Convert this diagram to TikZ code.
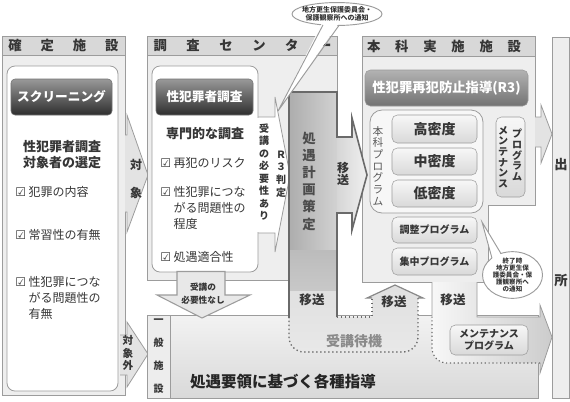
\documentclass[tikz,border=0pt]{standalone}
\usepackage{fontspec}
\setmainfont{Noto Sans CJK JP}
\newfontfamily\symfont{DejaVu Sans}
\definecolor{pfill}{HTML}{EEEEEE}
\definecolor{hfill}{HTML}{D8D8D8}
\definecolor{pline}{HTML}{9C9C9C}
\definecolor{tdark}{HTML}{363636}
\definecolor{bline}{HTML}{6A6A6A}
\definecolor{afill}{HTML}{E3E3E3}
\definecolor{gfill}{HTML}{F7F7F7}
\definecolor{uA}{HTML}{C8C8C8}
\definecolor{uB}{HTML}{E8E8E8}
\definecolor{sL}{HTML}{ADADAD}
\definecolor{sR}{HTML}{D2D2D2}
\definecolor{wgray}{HTML}{8A8A8A}
\newcommand{\ckb}{{\symfont ☑}\hspace{2pt}}
\begin{document}
\begin{tikzpicture}[x=0.75pt,y=-0.75pt,
  panel/.style={draw=pline, fill=pfill, line width=0.6pt},
  header/.style={draw=pline, fill=hfill, line width=0.6pt},
  htext/.style={inner sep=0pt, text=tdark, font=\fontsize{10}{12}\selectfont\bfseries},
  btnD/.style={rounded corners=3pt, top color=black!40, bottom color=black!82, draw=black!55, text=white, font=\fontsize{9.5}{11}\selectfont\bfseries, inner sep=0pt},
  btnM/.style={rounded corners=4pt, top color=black!30, bottom color=black!55, draw=black!40, text=white, font=\fontsize{10}{12}\selectfont\bfseries, inner sep=0pt},
  btext/.style={inner sep=0pt, text=tdark, font=\fontsize{9.75}{12}\selectfont\bfseries, align=center},
  citem/.style={inner sep=0pt, text=tdark, font=\fontsize{9}{12}\selectfont, align=left, anchor=west},
  vtext/.style={inner sep=0pt, text=tdark, align=center},
  dbox/.style={rounded corners=4pt, draw=pline, top color=gfill, bottom color=black!15, inner sep=0pt, text=tdark},
  apath/.style={draw=pline, fill=afill, line width=0.6pt}
]
\fill[white] (0,0) rectangle (570,401);
\useasboundingbox (0,0) rectangle (570,401);

%% ---------------- left column ----------------
\draw[panel] (2,36) rectangle (125,395);
\draw[header] (2,36) rectangle (125,55);
\node[htext] (hL) at (63.5,45.5) {\makebox[82.5pt]{確\hfill 定\hfill 施\hfill 設}};
\draw[draw=pline, fill=white, rounded corners=6pt, line width=0.6pt] (7,66) rectangle (118,391);
\node[btnD, minimum width=75.75pt, minimum height=27pt] (scr) at (61.5,97) {スクリーニング};
\node[btext] (sel) at (62,155) {性犯罪者調査\\対象者の選定};
\node[citem] (c1) at (15,192) {\ckb 犯罪の内容};
\node[citem] (c2) at (15,235) {\ckb 常習性の有無};
\node[citem, anchor=north west] (c3) at (15,276) {\ckb 性犯罪につな\\\hphantom{\ckb}がる問題性の\\\hphantom{\ckb}有無};

%% arrows out of left column
\draw[apath] (125,135) -- (127,135) -- (127,115) -- (148,175) -- (127,232) -- (127,212) -- (125,212);
\node[vtext, font=\fontsize{9}{21}\selectfont\bfseries] (tg) at (136,179) {対\\象};
\fill[afill] (120,335) -- (127,335) -- (127,322) -- (148,354) -- (127,387) -- (127,375) -- (120,375) -- cycle;
\draw[pline, line width=0.6pt] (120,335) -- (127,335) -- (127,322) -- (148,354) -- (127,387) -- (127,375) -- (120,375);
\node[vtext, font=\fontsize{8}{9.4}\selectfont\bfseries] (tgx) at (128,353) {対\\象\\外};

%% ---------------- center column ----------------
\draw[panel] (147,36) rectangle (337,280);
\draw[header] (147,36) rectangle (337,55);
\node[htext] (hC) at (242.5,45.5) {\makebox[133.5pt]{調\hfill 査\hfill セ\hfill ン\hfill タ\hfill ー}};
\draw[draw=pline, fill=white, line width=0.6pt] (250,117) -- (275,117) -- (275,97) -- (290,175) -- (275,252) -- (275,233) -- (250,233);
\draw[draw=pline, fill=white, rounded corners=6pt, line width=0.6pt] (152,66) rectangle (258,272);
\fill[white] (257,117.7) rectangle (259.5,232.3);
\node[btnD, minimum width=72.75pt, minimum height=27pt] (inv) at (204.5,97) {性犯罪者調査};
\node[btext] (sen) at (205,134) {専門的な調査};
\node[citem] (c4) at (160,163) {\ckb 再犯のリスク};
\node[citem, anchor=north west] (c5) at (160,186) {\ckb 性犯罪につな\\\hphantom{\ckb}がる問題性の\\\hphantom{\ckb}程度};
\node[citem] (c6) at (160,257) {\ckb 処遇適合性};
\node[vtext, font=\fontsize{7.5}{9.4}\selectfont\bfseries] (need) at (264,172) {受\\講\\の\\必\\要\\性\\あ\\り};
\node[vtext, font=\fontsize{7.5}{9.4}\selectfont\bfseries] (r3) at (281,174) {Ｒ\\３\\判\\定};

%% ---------------- main facility column ----------------
\draw[panel] (362,36) -- (535,36) -- (535,205) -- (488,205) -- (488,282) -- (362,282) -- cycle;
\draw[header] (362,36) rectangle (535,56);
\node[htext] (hR) at (444,46.5) {\makebox[115.5pt]{本\hfill 科\hfill 実\hfill 施\hfill 施\hfill 設}};
\node[btnM, minimum width=122.25pt, minimum height=27pt] (r3b) at (446.5,88) {性犯罪再犯防止指導(R3)};
\draw[draw=pline, fill=gfill, rounded corners=9pt, line width=0.6pt] (370,110) rectangle (483,213);
\node[vtext, text=black!65, font=\fontsize{8}{8.75}\selectfont] (hk) at (378,166) {本\\科\\プ\\ロ\\グ\\ラ\\ム};
\node[dbox, minimum width=63.75pt, minimum height=21pt, font=\fontsize{10.5}{12}\selectfont\bfseries] (hi) at (434.5,129) {高密度};
\node[dbox, minimum width=63.75pt, minimum height=20.25pt, font=\fontsize{10.5}{12}\selectfont\bfseries] (mid) at (434.5,161.5) {中密度};
\node[dbox, minimum width=63.75pt, minimum height=20.25pt, font=\fontsize{10.5}{12}\selectfont\bfseries] (lo) at (434.5,193.5) {低密度};
\node[dbox, minimum width=21.75pt, minimum height=60pt] (pm) at (510.5,157) {};
\node[vtext, anchor=north, font=\fontsize{7.5}{8}\selectfont\bfseries] (pm1) at (517,129) {プ\\ロ\\グ\\ラ\\ム};
\node[vtext, anchor=north, font=\fontsize{7.5}{8}\selectfont\bfseries] (pm2) at (503,126) {メ\\ン\\テ\\ナ\\ン\\ス};
\node[dbox, minimum width=63.75pt, minimum height=19.5pt, font=\fontsize{7.5}{9}\selectfont\bfseries] (adj) at (434.5,230) {調整プログラム};
\node[dbox, minimum width=63.75pt, minimum height=20.25pt, font=\fontsize{7.5}{9}\selectfont\bfseries] (con) at (434.5,261.5) {集中プログラム};

%% ---------------- exit column ----------------
\draw[panel] (552,37) rectangle (569.5,398);
\node[htext] (ex1) at (561,165) {出};
\node[htext] (ex2) at (561,280) {所};
\draw[apath] (535,117) -- (541,117) -- (541,105) -- (552,134) -- (541,163) -- (541,147) -- (535,147);

%% ---------------- general facility ----------------
\draw[draw=pline, line width=0.6pt, top color=black!5, bottom color=black!15] (147,315) rectangle (538,398);
\draw[draw=pline, fill=black!7, line width=0.6pt] (147,315) rectangle (170,398);
\node[vtext, font=\fontsize{7.5}{17.25}\selectfont\bfseries] (ip) at (158.5,356.5) {一\\般\\施\\設};
\node[inner sep=0pt, text=black!85, font=\fontsize{11.6}{14}\selectfont\bfseries] (main) at (283,382) {処遇要領に基づく各種指導};

%% ---------------- right channel to exit ----------------
\path[left color=black!3, right color=black!20] (432,282) -- (477,282) -- (477,317) -- (540,317) -- (540,305) -- (552,337) -- (540,373) -- (540,363) -- (447,363) .. controls (438.7,363) and (432,356.3) .. (432,348) -- cycle;
\draw[pline, line width=0.6pt] (432,317) -- (432,282) (477,282) -- (477,317) -- (540,317) -- (540,305) -- (552,337) -- (540,373) -- (540,363);
\draw[bline, dotted, line width=0.9pt] (540,363) -- (447,363) .. controls (438.7,363) and (432,356.3) .. (432,348) -- (432,317);
\node[inner sep=0pt, text=tdark, font=\fontsize{9.4}{11}\selectfont\bfseries] (iso3) at (453,300) {移送};
\node[dbox, minimum width=58.5pt, minimum height=22.5pt, align=center, font=\fontsize{7.5}{9}\selectfont\bfseries] (mp) at (489,340) {メンテナンス\\プログラム};

%% ---------------- treatment planning + waiting ----------------
\path[top color=uA, bottom color=uB] (289,92) -- (337,92) -- (337,137) -- (352,137) -- (352,118) -- (367,175) -- (352,230) -- (352,213) -- (337,213) -- (337,317) -- (372,317) -- (372,298) -- (367,298) -- (395,285) -- (423,298) -- (418,298) -- (418,337) .. controls (418,345.3) and (411.3,352) .. (403,352) -- (304,352) .. controls (295.7,352) and (289,345.3) .. (289,337) -- cycle;
\path[left color=sL, right color=sR] (289,92) rectangle (337,250);
\path[top color=sL!60!sR, bottom color=uA] (289,250) rectangle (337,290);
\path[left color=black!16, right color=black!6] (337,137) -- (352,137) -- (352,118) -- (367,175) -- (352,230) -- (352,213) -- (337,213) -- cycle;
\draw[bline, line width=1.2pt, line join=miter] (289,318) -- (289,92) -- (337,92) -- (337,137) -- (352,137) -- (352,118) -- (367,175) -- (352,230) -- (352,213) -- (337,213) -- (337,317);
\draw[bline, dotted, line width=1pt] (337,317) -- (372,317) -- (372,298);
\draw[bline!80, line width=0.9pt] (372,298) -- (367,298) -- (395,285) -- (423,298) -- (418,298);
\draw[bline, dotted, line width=1pt] (418,298) -- (418,337) .. controls (418,345.3) and (411.3,352) .. (403,352) -- (304,352) .. controls (295.7,352) and (289,345.3) .. (289,337) -- (289,318);
\node[vtext, text=black!70, font=\fontsize{10}{12.9}\selectfont\bfseries] (plan) at (309,181) {処\\遇\\計\\画\\策\\定};
\node[vtext, font=\fontsize{9}{9.4}\selectfont\bfseries] (iso1) at (343,174) {移\\送};
\node[inner sep=0pt, text=tdark, font=\fontsize{9.4}{11}\selectfont\bfseries] (iso2) at (312,300) {移送};
\node[inner sep=0pt, text=tdark, font=\fontsize{9.4}{11}\selectfont\bfseries] (iso4) at (394,302) {移送};
\node[inner sep=0pt, text=wgray, font=\fontsize{10.5}{12}\selectfont\bfseries] (wait) at (354,341) {受講待機};

%% ---------------- no-need arrow ----------------
\draw[draw=pline, fill=black!9, line width=0.8pt] (177,271.5) -- (225,271.5) -- (225,295) -- (250,295) -- (202,318) -- (157,295) -- (177,295) -- cycle;
\node[vtext, font=\fontsize{6.5}{9.75}\selectfont\bfseries] (nn) at (203,293.5) {受講の\\必要性なし};

%% ---------------- callouts ----------------
\draw[draw=pline, fill=white, line width=0.7pt] (337,14) ellipse [x radius=33.75pt, y radius=8.6pt];
\fill[white] (322,23) -- (339,23) -- (278,111) -- cycle;
\draw[pline, line width=0.7pt] (323,24.9) -- (278,111) -- (339,25.4);
\node[vtext, font=\fontsize{5.25}{6}\selectfont\bfseries] (b1) at (337,14) {地方更生保護委員会・\\保護観察所への通知};

\draw[draw=pline, fill=white, line width=0.7pt] (512.5,275) ellipse [x radius=22.5pt, y radius=17.5pt];
\fill[white] (493,261.5) -- (502,256.5) -- (482,222) -- cycle;
\draw[pline, line width=0.7pt] (492,258.3) -- (482,222) -- (501,253.6);
\node[vtext, font=\fontsize{4.9}{5.4}\selectfont\bfseries] (b2) at (512.5,275) {終了時\\地方更生保\\護委員会・保\\護観察所へ\\の通知};
\end{tikzpicture}
\end{document}
